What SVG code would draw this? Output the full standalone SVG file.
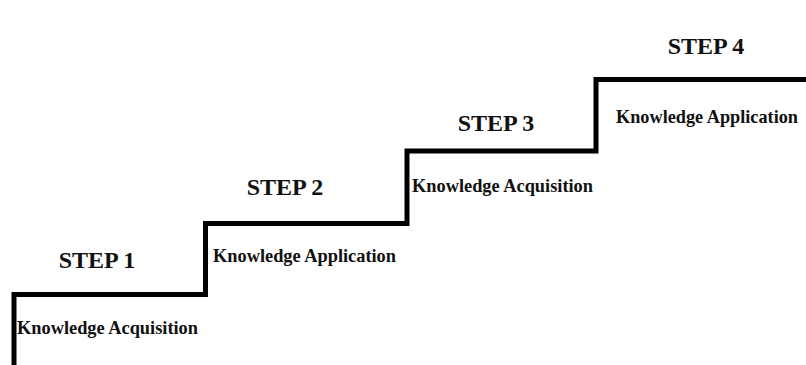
<svg xmlns="http://www.w3.org/2000/svg" width="806" height="365" viewBox="0 0 806 365">
<style>
.step{font-family:"Liberation Serif","Times New Roman",serif;font-weight:bold;font-size:24px;fill:#111;text-anchor:middle}
.lbl{font-family:"Liberation Serif","Times New Roman",serif;font-weight:bold;font-size:18px;fill:#111}
.stair{fill:none;stroke:#000;stroke-width:5;stroke-linejoin:miter}
</style>
<rect width="806" height="365" fill="#fff"/>
<g id="connectors">
<path class="stair" d="M14 365 V294.5 H205.5 V223.5 H407 V151 H596 V79.5 H806"/>
</g>
<g id="step1">
<text class="step" x="97" y="268">STEP 1</text>
<text class="lbl" x="17" y="334" textLength="181" lengthAdjust="spacingAndGlyphs">Knowledge Acquisition</text>
</g>
<g id="step2">
<text class="step" x="285" y="195">STEP 2</text>
<text class="lbl" x="213" y="262" textLength="183" lengthAdjust="spacingAndGlyphs">Knowledge Application</text>
</g>
<g id="step3">
<text class="step" x="496" y="131">STEP 3</text>
<text class="lbl" x="412" y="192" textLength="181" lengthAdjust="spacingAndGlyphs">Knowledge Acquisition</text>
</g>
<g id="step4">
<text class="step" x="706" y="54">STEP 4</text>
<text class="lbl" x="616" y="123" textLength="182" lengthAdjust="spacingAndGlyphs">Knowledge Application</text>
</g>
</svg>
